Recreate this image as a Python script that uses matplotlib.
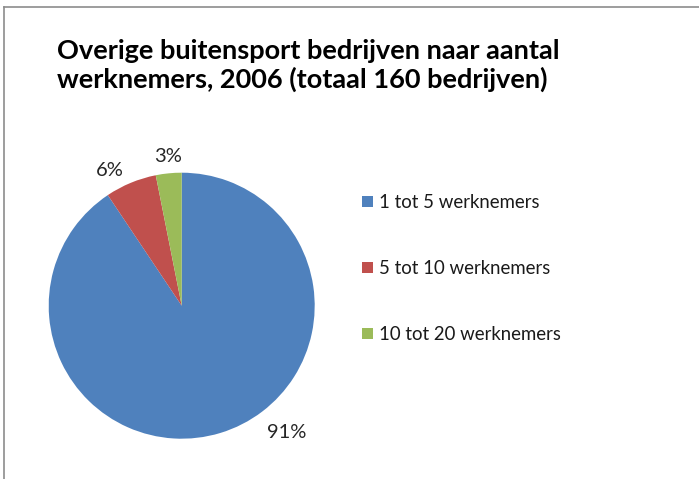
import matplotlib.pyplot as plt
from matplotlib.lines import Line2D

categories = ['1 tot 5 werknemers', '5 tot 10 werknemers', '10 tot 20 werknemers']
companies = [145, 10, 5]
pct_labels = ['91%', '6%', '3%']
colors = ['#4F81BD', '#C0504D', '#9BBB59']
# label spots around the pie (in pie radius units), Excel "best fit" style
label_pos = [(0.79, -0.95), (-0.54, 1.02), (-0.10, 1.12)]

plt.rcParams['font.family'] = ['Lato', 'DejaVu Sans']

fig = plt.figure(figsize=(6.99, 4.79), dpi=100)
W, H = 699, 479

# chart frame (only top and left edges are visible in the crop)
fig.add_artist(Line2D([4 / W, 4 / W], [0, 1 - 7 / H], color='#8c8c8c', lw=1.2))
fig.add_artist(Line2D([4 / W, 1], [1 - 7 / H, 1 - 7 / H], color='#8c8c8c', lw=1.2))

fig.text(57 / W, 1 - 88 / H, 'Overige buitensport bedrijven naar aantal\nwerknemers, 2006 (totaal 160 bedrijven)',
         fontsize=19.5, fontweight='bold', ha='left', va='baseline', linespacing=1.2, color='#000000')

cx, cy, r = 181.7, 305.7, 133
ax = fig.add_axes([(cx - r) / W, (H - cy - r) / H, 2 * r / W, 2 * r / H])
wedges, _ = ax.pie(companies, colors=colors, startangle=90, counterclock=False,
                   radius=1, wedgeprops=dict(linewidth=0))
ax.set_xlim(-1, 1)
ax.set_ylim(-1, 1)
ax.set_aspect('equal')
ax.axis('off')

for txt, (x, y) in zip(pct_labels, label_pos):
    ax.text(x, y, txt, ha='center', va='center', fontsize=14.5, color='#262626', clip_on=False)

fig.legend(wedges, categories, loc='upper left', bbox_to_anchor=(353 / W, 1 - 185 / H),
           frameon=False, fontsize=13.4, handlelength=0.55, handleheight=0.55, handletextpad=0.35,
           labelspacing=2.62, borderpad=0, labelcolor='#1a1a1a')

fig.savefig('out.png', dpi=100)
